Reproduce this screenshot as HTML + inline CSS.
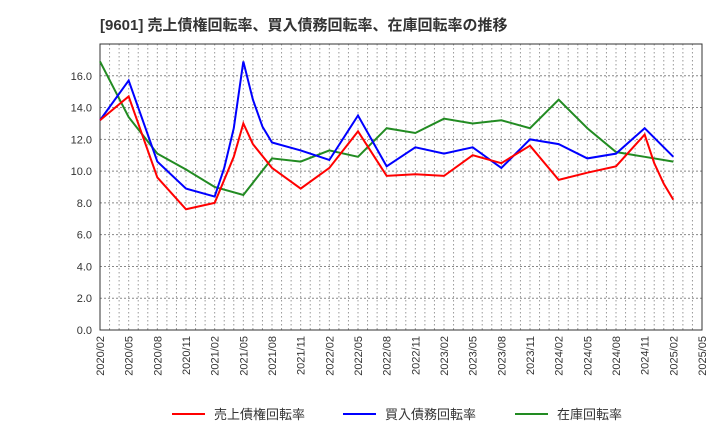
<!DOCTYPE html>
<html><head><meta charset="utf-8"><style>
body{margin:0;background:#fff;font-family:"Liberation Sans","Noto Sans CJK JP",sans-serif}
</style></head><body>
<svg id="c" width="720" height="440" xmlns="http://www.w3.org/2000/svg" font-family="Liberation Sans, Noto Sans CJK JP, sans-serif"></svg>
<script>
const xLabels=["2020/02","2020/05","2020/08","2020/11","2021/02","2021/05","2021/08","2021/11","2022/02","2022/05","2022/08","2022/11","2023/02","2023/05","2023/08","2023/11","2024/02","2024/05","2024/08","2024/11","2025/02","2025/05"];
const yTicks=[0,2,4,6,8,10,12,14,16];
const redMonths=[0,3,6,9,12,14,15,16,18,21,24,27,30,33,36,39,42,45,48,51,54,57,58,59,60];
const redValues=[13.2,14.7,9.6,7.6,8.0,10.9,13.0,11.7,10.2,8.9,10.2,12.5,9.7,9.8,9.7,11.0,10.5,11.6,9.45,9.9,10.3,12.3,10.5,9.2,8.2];
const blueMonths=[0,3,6,9,12,13,14,15,16,17,18,21,24,27,30,33,36,39,42,45,48,51,54,57,60];
const blueValues=[13.2,15.7,10.6,8.9,8.4,10.2,12.7,16.9,14.5,12.8,11.8,11.3,10.7,13.5,10.3,11.5,11.1,11.5,10.2,12.0,11.7,10.8,11.1,12.7,10.9];
const greenMonths=[0,3,6,9,12,15,18,21,24,27,30,33,36,39,42,45,48,51,54,57,60];
const greenValues=[16.9,13.4,11.1,10.1,9.0,8.5,10.8,10.6,11.3,10.9,12.7,12.4,13.3,13.0,13.2,12.7,14.5,12.7,11.2,10.9,10.6];
const svg=document.getElementById('c');const NS="http://www.w3.org/2000/svg";
const L=100,R=702,T=44,B=330;
const x=m=>L+m*(R-L)/63, y=v=>B-v*(B-T)/18;
function mk(t,a,p){const e=document.createElementNS(NS,t);for(const k in a)e.setAttribute(k,a[k]);(p||svg).appendChild(e);return e;}
let e=mk('text',{x:100,y:30,'font-size':15,'font-weight':'bold',fill:'#333'});e.textContent='[9601]  売上債権回転率、買入債務回転率、在庫回転率の推移';

for(let m=1;m<63;m++){e=mk('line',{x1:x(m),x2:x(m),y1:T,y2:B,stroke:'#999','stroke-dasharray':'1.5,2.5','stroke-width':1});
}
yTicks.forEach(v=>{if(v>0){e=mk('line',{x1:L,x2:R,y1:y(v),y2:y(v),stroke:'#888','stroke-dasharray':'2,2'});}
e=mk('text',{x:L-8,y:y(v)+4,'text-anchor':'end','font-size':11,fill:'#333'});e.textContent=v.toFixed(1);
});
xLabels.forEach((s,i)=>{const xx=x(i*3);e=mk('text',{x:xx+4,y:B+6,'text-anchor':'end','font-size':11,fill:'#333',transform:`rotate(-90 ${xx+4} ${B+6})`});e.textContent=s;
});
e=mk('rect',{x:L,y:T,width:R-L,height:B-T,fill:'none',stroke:'#333'});
function line(ms,vs,c,n){e=mk('polyline',{points:ms.map((m,i)=>x(m)+','+y(vs[i])).join(' '),fill:'none',stroke:c,'stroke-width':2});
}
line(greenMonths,greenValues,'#228b22','inventory-turnover-line');
line(blueMonths,blueValues,'#0000ff','payables-turnover-line');
line(redMonths,redValues,'#ff0000','receivables-turnover-line');
[['売上債権回転率','#ff0000',172],['買入債務回転率','#0000ff',343],['在庫回転率','#228b22',515]].forEach(([t,c,lx])=>{
const g=mk('g',{});
mk('line',{x1:lx,x2:lx+33,y1:414,y2:414,stroke:c,'stroke-width':2},g);
const tx=mk('text',{x:lx+42,y:419,'font-size':13,fill:'#333'},g);tx.textContent=t;});
</script></body></html>
